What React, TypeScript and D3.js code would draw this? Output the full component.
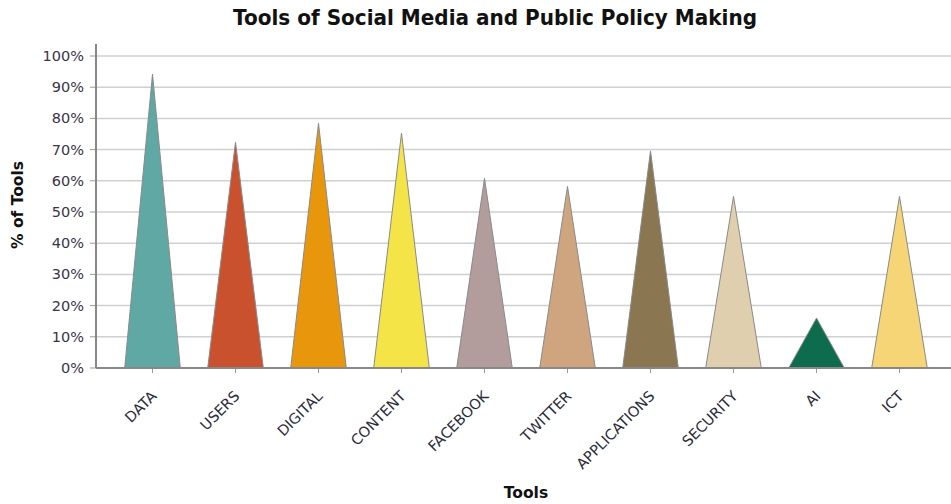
import React from "react";
import * as d3 from "d3";

const categories = ["DATA", "USERS", "DIGITAL", "CONTENT", "FACEBOOK", "TWITTER", "APPLICATIONS", "SECURITY", "AI", "ICT"];
const values = [94.2, 72.4, 78.4, 75.3, 60.8, 58.2, 69.6, 55.0, 16.0, 55.0];
const colors = ["#5fa8a3", "#c9512e", "#e8960c", "#f5e447", "#b39d9c", "#cfa57f", "#8a7650", "#e0cfae", "#0d6b4e", "#f5d576"];
const yTicks = [0, 10, 20, 30, 40, 50, 60, 70, 80, 90, 100];

const W = 951, H = 504;
const left = 96, right = 951, top = 44, bottom = 368;

export default function App() {
  const x = d3.scaleBand<string>().domain(categories).range([111, 941]).padding(0);
  const y = d3.scaleLinear().domain([0, 100]).range([bottom, 56]);
  const bw = x.bandwidth();
  const half = bw * 0.335;
  const font = "Verdana, 'DejaVu Sans', sans-serif";
  return (
    <svg width={W} height={H} style={{ position: "absolute", left: 0, top: 0, background: "#fff" }}>
      <text x={495} y={25} textAnchor="middle" fontFamily="Tahoma, 'DejaVu Sans', sans-serif" fontWeight="bold" fontSize={20.5} fill="#111" textLength={524} lengthAdjust="spacingAndGlyphs">
        Tools of Social Media and Public Policy Making
      </text>
      {yTicks.map((t) => (
        <g key={t}>
          {t > 0 && <line x1={left} x2={right} y1={y(t)} y2={y(t)} stroke="#d0d0d0" strokeWidth={1.5} />}
          <line x1={left - 6} x2={left} y1={y(t)} y2={y(t)} stroke="#999" strokeWidth={1} />
          <text x={84} y={y(t) + 5} textAnchor="end" fontFamily={font} fontSize={14.5} fill="#3a3346">
            {t}%
          </text>
        </g>
      ))}
      {categories.map((c, i) => {
        const cx = (x(c) as number) + bw / 2;
        const path = d3.path();
        path.moveTo(cx - half, y(0));
        path.lineTo(cx, y(values[i]));
        path.lineTo(cx + half, y(0));
        path.closePath();
        return (
          <g key={c}>
            <path d={path.toString()} fill={colors[i]} stroke="#8a8a8a" strokeWidth={1} />
            <line x1={cx} x2={cx} y1={bottom} y2={bottom + 5} stroke="#999" />
            <text transform={`translate(${cx + 5},${bottom + 29}) rotate(-45)`} textAnchor="end" fontFamily={font} fontSize={14.5} fill="#2a2a3a">
              {c}
            </text>
          </g>
        );
      })}
      <line x1={left} x2={right} y1={bottom} y2={bottom} stroke="#888" strokeWidth={2} />
      <line x1={left} x2={left} y1={top} y2={bottom} stroke="#888" strokeWidth={2} />
      <text transform={`translate(23,${205}) rotate(-90)`} textAnchor="middle" fontFamily={font} fontWeight="bold" fontSize={15.5} fill="#111">
        % of Tools
      </text>
      <text x={526} y={498} textAnchor="middle" fontFamily={font} fontWeight="bold" fontSize={15.5} fill="#111">
        Tools
      </text>
    </svg>
  );
}
